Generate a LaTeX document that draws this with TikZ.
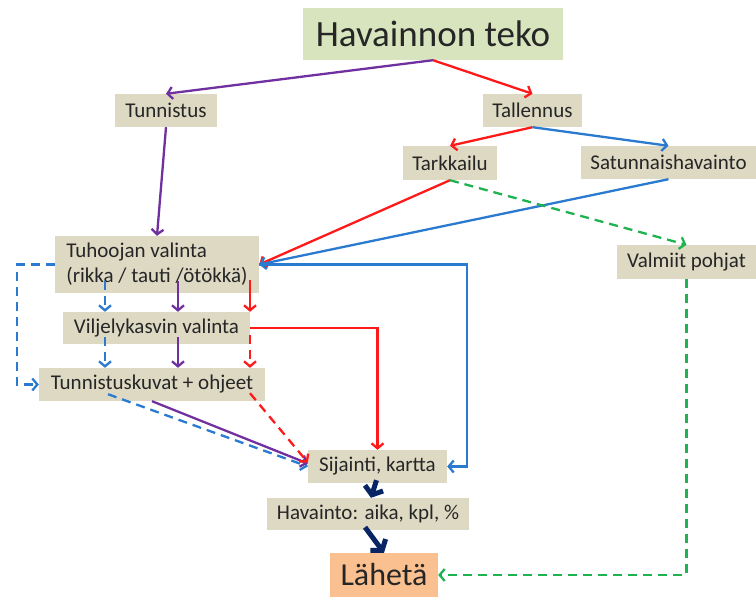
\documentclass[tikz,border=0pt]{standalone}
\usepackage{fontspec}
\setmainfont{Carlito}
\usetikzlibrary{arrows.meta,calc}
\definecolor{boxtan}{HTML}{DDD9C3}
\definecolor{boxgreen}{HTML}{D7E4BD}
\definecolor{boxorange}{HTML}{FAC090}
\definecolor{cred}{HTML}{FF1A1A}
\definecolor{cblue}{HTML}{2A7ACF}
\definecolor{cpurple}{HTML}{7030A0}
\definecolor{cgreen}{HTML}{1EB350}
\definecolor{cnavy}{HTML}{0A2566}
\definecolor{txt}{HTML}{262626}
\begin{document}
\begin{tikzpicture}[x=1pt,y=-1pt,
  box/.style={fill=boxtan, inner sep=0pt, text=txt, font=\fontsize{21}{25}\selectfont, minimum height=33pt},
  ar/.style={line width=2.3pt, -{Straight Barb[length=5pt,width=12pt]}},
  dsh/.style={dash pattern=on 9pt off 6pt},
  navyar/.style={line width=5pt, cnavy, -{Straight Barb[length=7pt,width=19pt]}}]
\useasboundingbox (0,0) rectangle (756,597);
% nodes
\node[box, fill=boxgreen, minimum width=260pt, minimum height=52pt, font=\fontsize{37}{40}\selectfont] (top) at (433,34) {Havainnon teko};
\node[box, minimum width=102pt] (tunn) at (166,110.5) {Tunnistus};
\node[box, minimum width=99pt] (tall) at (532.5,110.5) {Tallennus};
\node[box, minimum width=94pt, minimum height=34pt] (tark) at (450,163) {Tarkkailu};
\node[box, minimum width=175pt] (satu) at (668.5,162.5) {Satunnaishavainto};
\node[box, minimum width=139pt, minimum height=34pt] (valm) at (686.5,262) {Valmiit pohjat};
\node[box, minimum width=204pt, minimum height=57pt, align=left] (tuho) at (157,264.5) {Tuhoojan valinta\\(rikka / tauti /ötökkä)};
\node[box, minimum width=187pt, minimum height=32pt] (vilj) at (156.5,328) {Viljelykasvin valinta};
\node[box, minimum width=226pt] (tk) at (152,384.5) {Tunnistuskuvat + ohjeet};
\node[box, minimum width=139pt] (sij) at (377.5,466.5) {Sijainti, kartta};
\node[box, minimum width=202pt, minimum height=32pt] (hav) at (368,514) {Havainto: aika, kpl, \%};
\node[box, fill=boxorange, minimum width=108pt, minimum height=44pt, font=\fontsize{32}{36}\selectfont] (lahe) at (384,575) {Lähetä};
\coordinate (cb) at (105,0);
\coordinate (cp) at (178,0);
\coordinate (cr) at (250,0);
\coordinate (cd) at (108,0);
% connectors
\draw[ar, cpurple] (top.south) -- (tunn.north);
\draw[ar, cred] (top.south) -- (tall.north);
\draw[ar, cred] (tall.south) -- (tark.north);
\draw[ar, cblue] (tall.south) -- (satu.north);
\draw[ar, cpurple] (tunn.south) -- (tuho.north);
\draw[ar, cred] (tark.south) -- (tuho.east);
\draw[ar, cblue] (satu.south) -- (tuho.east);
\draw[ar, cgreen, dsh] (tark.south) -- (valm.north);
\draw[ar, cgreen, dsh] (valm.south) |- (lahe.east);
\draw[ar, cblue] (tuho.east) -- ++(208,0) |- (sij.east);
\draw[ar, cblue, dsh] (tuho.west) -- ++(-38,0) |- (tk.west);
\draw[ar, cblue, dsh] ($(tuho.south -| cb)+(0,-12)$) -- (vilj.north -| cb);
\draw[ar, cpurple] ($(tuho.south -| cp)+(0,-12)$) -- (vilj.north -| cp);
\draw[ar, cred] ($(tuho.south -| cr)+(0,-13)$) -- (vilj.north -| cr);
\draw[ar, cblue, dsh] ($(vilj.south -| cb)+(0,-7)$) -- (tk.north -| cb);
\draw[ar, cpurple] ($(vilj.south -| cp)+(0,-7)$) -- (tk.north -| cp);
\draw[ar, cred, dsh] ($(vilj.south -| cr)+(0,-9)$) -- (tk.north -| cr);
\draw[ar, cred] (vilj.east) -| (sij.north);
\draw[ar, cblue, dsh] ($(tk.south -| cd)+(0,-7)$) -- (sij.west);
\draw[ar, cpurple] (tk.south) -- ($(sij.west)+(0,-3)$);
\draw[ar, cred, dsh] ($(tk.south -| cr)+(0,-8)$) -- ($(sij.west)+(0,-4)$);
\draw[navyar] ($(sij.south)+(-1,-3)$) -- ($(hav.north)+(3,0)$);
\draw[navyar] ($(hav.south)+(-3,-3)$) -- (lahe.north);
\end{tikzpicture}
\end{document}
